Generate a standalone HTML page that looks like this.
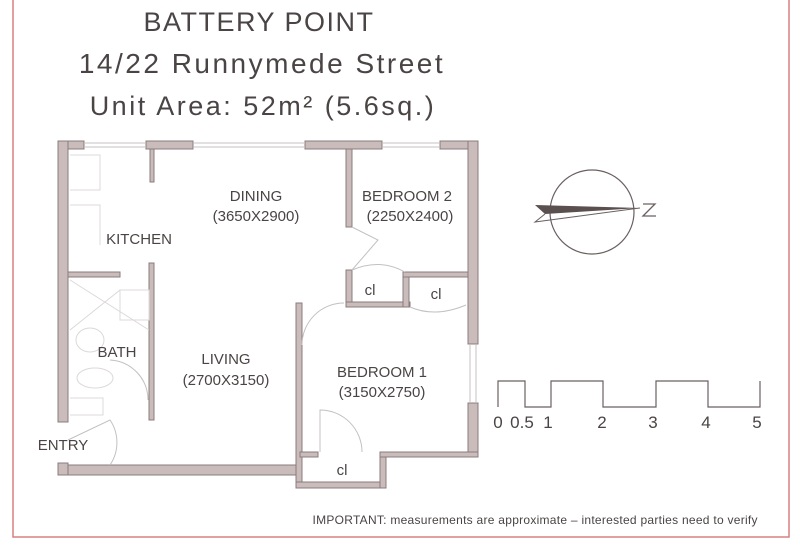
<!DOCTYPE html>
<html><head><meta charset="utf-8"><style>
html,body{margin:0;padding:0;background:#fff;}
svg{display:block;}
text{font-family:"Liberation Sans",sans-serif;fill:#4a4444;}
</style></head><body>
<svg width="800" height="552" viewBox="0 0 800 552" xmlns="http://www.w3.org/2000/svg">
<rect width="800" height="552" fill="#fff"/>
<path d="M13,0 V537 H789 V0" fill="none" stroke="#d98080" stroke-width="1.5"/>
<text x="259" y="31" font-size="27" text-anchor="middle" letter-spacing="1.5">BATTERY POINT</text>
<text x="262" y="73" font-size="28" text-anchor="middle" letter-spacing="2.5">14/22 Runnymede Street</text>
<text x="263" y="115" font-size="27" text-anchor="middle" letter-spacing="2.5">Unit Area: 52m² (5.6sq.)</text>

<g fill="#cbbcbc" stroke="#8a7c7c" stroke-width="1">
<rect x="58" y="141" width="26" height="8"/>
<rect x="146" y="141" width="47" height="8"/>
<rect x="305" y="141" width="77" height="8"/>
<rect x="440" y="141" width="38" height="8"/>
<rect x="58" y="141" width="10" height="281"/>
<rect x="468" y="141" width="10" height="203"/>
<rect x="468" y="403" width="10" height="52"/>
<rect x="58" y="465" width="240" height="10"/>
<rect x="58" y="463" width="10" height="12"/>
<rect x="296" y="303" width="6" height="185"/>
<rect x="296" y="482" width="89" height="6"/>
<rect x="380" y="452" width="6" height="36"/>
<rect x="380" y="452" width="98" height="5"/>
<rect x="300" y="452" width="18" height="5"/>
<rect x="346" y="149" width="6" height="78"/>
<rect x="346" y="270" width="6" height="37"/>
<rect x="346" y="302" width="64" height="5"/>
<rect x="403" y="272" width="6" height="35"/>
<rect x="403" y="272" width="65" height="5"/>
<rect x="68" y="272" width="52" height="5"/>
<rect x="149" y="263" width="5" height="157"/>
<rect x="150" y="149" width="4" height="33"/>
</g>
<g stroke="#c4c0c0" stroke-width="1" fill="none">
<path d="M84,143 H146 M84,147 H146 M193,143 H305 M193,147 H305 M382,143 H440 M382,147 H440"/>
<path d="M470,344 V403 M476,344 V403"/>
<path d="M302,345 A42,42 0 0 1 344,303"/>
<path d="M320,452 V410 A42,42 0 0 1 362,452"/>
<path d="M352,227 L378,240 L352,270"/>
<path d="M352,270 Q380,258 405,272"/>
<path d="M410,307 Q435,318 466,305"/>
<path d="M68,440 L110,420 A40,40 0 0 1 110,465"/>
<path d="M110,360 A40,40 0 0 1 148,400"/>
</g>
<g stroke="#dcd8d8" stroke-width="1" fill="none">
<path d="M70,155 H100 V190 H70 M70,205 H100 V245"/>
<path d="M120,290 H149 V320 H120 Z M70,280 L149,330 M70,330 L120,290"/>
<ellipse cx="90" cy="340" rx="14" ry="12"/>
<ellipse cx="95" cy="378" rx="18" ry="10"/>
<path d="M70,398 H103 V415 H70"/>
</g>
<g font-size="15" text-anchor="middle">
<text x="256" y="201">DINING</text>
<text x="256" y="221">(3650X2900)</text>
<text x="407" y="201">BEDROOM 2</text>
<text x="410" y="221">(2250X2400)</text>
<text x="139" y="244">KITCHEN</text>
<text x="117" y="357">BATH</text>
<text x="226" y="364">LIVING</text>
<text x="226" y="385">(2700X3150)</text>
<text x="382" y="377">BEDROOM 1</text>
<text x="382" y="397">(3150X2750)</text>
<text x="370" y="295">cl</text>
<text x="436" y="299">cl</text>
<text x="342" y="475">cl</text>
<text x="63" y="450">ENTRY</text>
</g>
<circle cx="592" cy="212" r="42" fill="none" stroke="#6a6060" stroke-width="1.2"/>
<path d="M535,205 L640,208 L545,214 Z" fill="#5a5050"/>
<path d="M545,214 L535,222 L640,208" fill="none" stroke="#6a6060"/>
<path d="M643,204 H655 L643,216 H656" fill="none" stroke="#6a6060" stroke-width="1.3"/>
<path d="M498,407 V381 H525 V407 H551 V381 H603 V407 H656 V381 H708 V407 H760 V381" fill="none" stroke="#6a6060" stroke-width="1.2"/>
<g font-size="17" text-anchor="middle">
<text x="498" y="428">0</text>
<text x="522" y="428">0.5</text>
<text x="548" y="428">1</text>
<text x="602" y="428">2</text>
<text x="653" y="428">3</text>
<text x="706" y="428">4</text>
<text x="757" y="428">5</text>
</g>
<text x="535" y="524" font-size="12" text-anchor="middle" textLength="445">IMPORTANT: measurements are approximate – interested parties need to verify</text>
</svg>
</body></html>
